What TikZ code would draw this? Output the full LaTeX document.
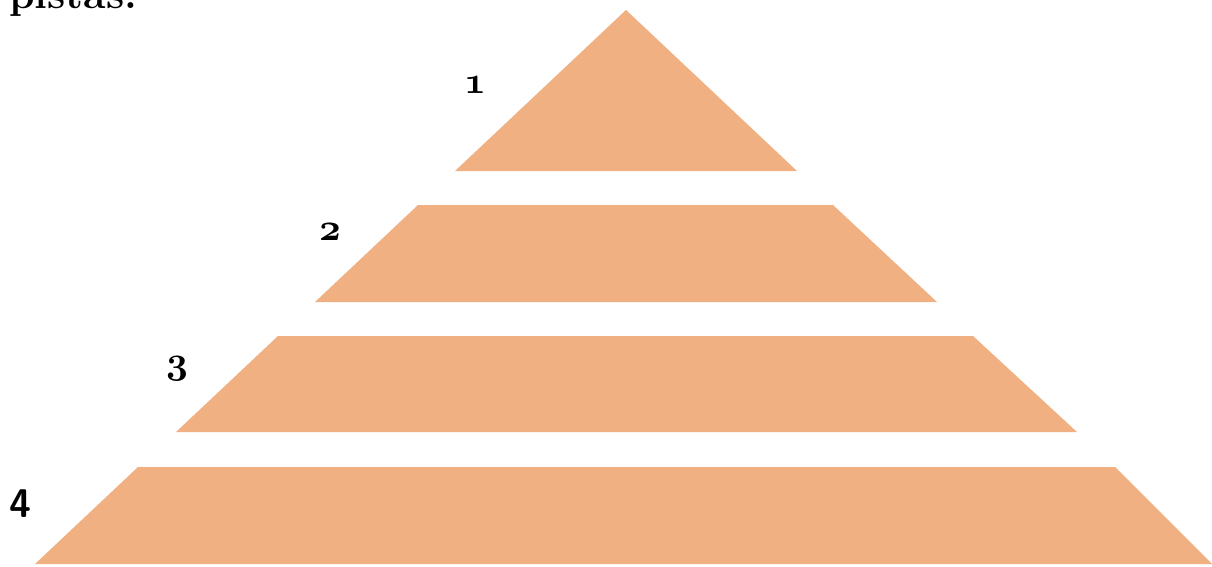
\documentclass[tikz,border=0pt]{standalone}
\definecolor{tier}{RGB}{241,176,130}
\tikzset{
  tierfill/.style={fill=tier, draw=none},
  oslabel/.style={font=\boldmath, scale=3.8, inner sep=0pt, text=black},
}
\begin{document}
\begin{tikzpicture}[x=1pt,y=-1pt]
\useasboundingbox (0,0) rectangle (1212,566);
\clip (0,0) rectangle (1212,566);
\fill[white] (0,0) rectangle (1212,566);
% heading fragment cut by the top edge
\node[anchor=base west, inner sep=0pt, font=\bfseries\fontsize{41}{44}\selectfont] (head) at (9,8) {pistas.};
% tiers
\path[tierfill] (626,10) -- (797,171) -- (455,171) -- cycle;
\path[tierfill] (418,205) -- (833,205) -- (937,302) -- (315,302) -- cycle;
\path[tierfill] (278,336) -- (973,336) -- (1077,432) -- (176,432) -- cycle;
\path[tierfill] (138,467) -- (1115,467) -- (1212,564) -- (35,564) -- cycle;
% labels
\node[oslabel] (l1) at (475,85) {$\oldstylenums{1}$};
\node[oslabel] (l2) at (330,232) {$\oldstylenums{2}$};
\node[oslabel] (l3) at (177,369) {$\oldstylenums{3}$};
\node[font=\sffamily\bfseries, scale=4, inner sep=0pt] (l4) at (20,504) {4};
\end{tikzpicture}
\end{document}
